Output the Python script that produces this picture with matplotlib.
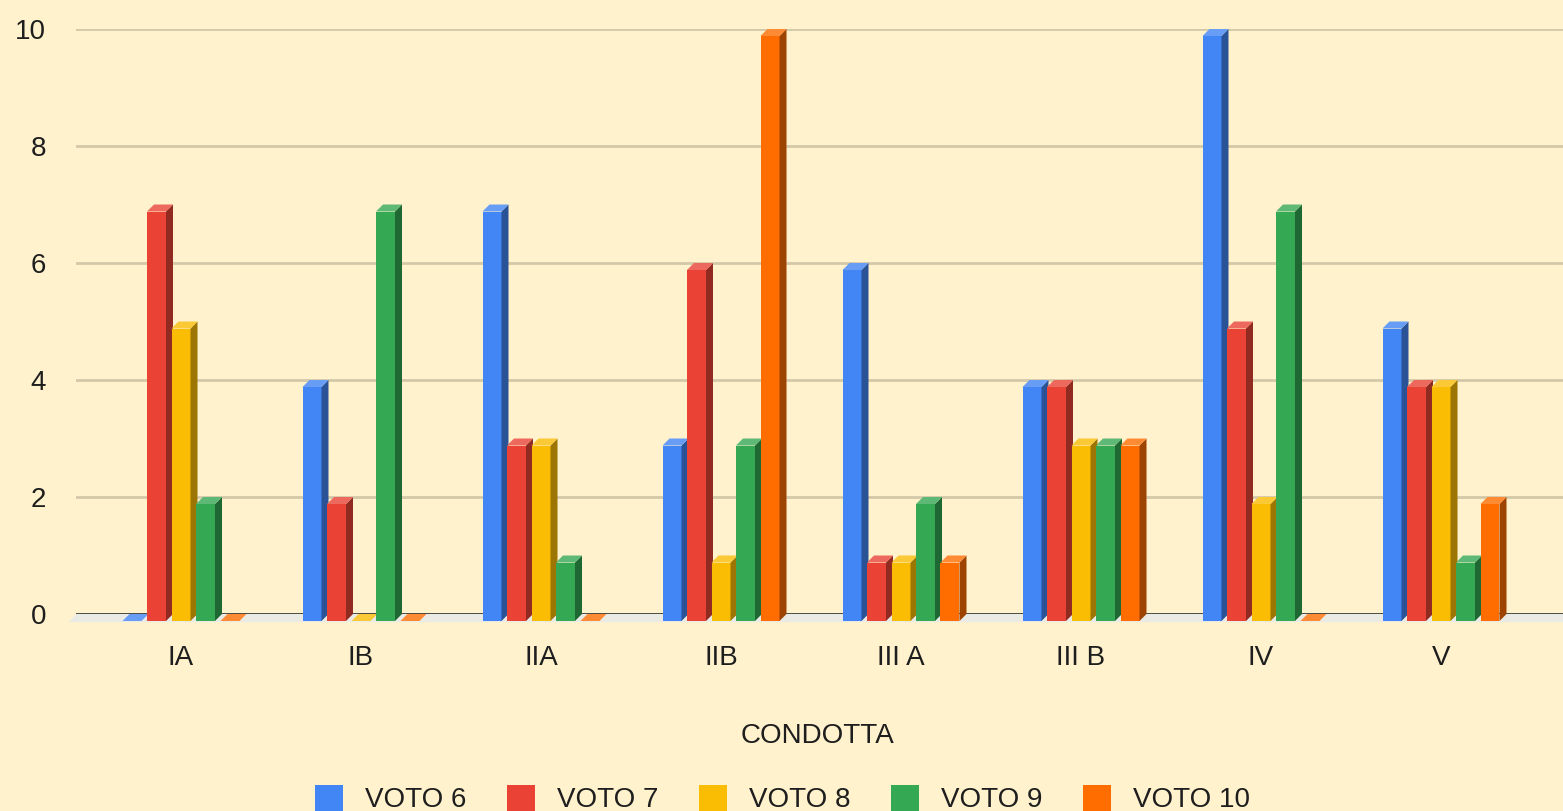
import matplotlib
matplotlib.use("Agg")
import matplotlib.pyplot as plt
from matplotlib.patches import Polygon, Rectangle
import numpy as np

# data
classes = ["IA", "IB", "IIA", "IIB", "III A", "III B", "IV", "V"]
series = ["VOTO 6", "VOTO 7", "VOTO 8", "VOTO 9", "VOTO 10"]
voto6 = [0, 4, 7, 3, 6, 4, 10, 5]
voto7 = [7, 2, 3, 6, 1, 4, 5, 4]
voto8 = [5, 0, 3, 1, 1, 3, 2, 4]
voto9 = [2, 7, 1, 3, 2, 3, 7, 1]
voto10 = [0, 0, 0, 10, 1, 3, 0, 2]
values = [voto6, voto7, voto8, voto9, voto10]

colors = ["#4285f4", "#ea4335", "#fbbc04", "#34a853", "#ff6d01"]
bg = "#fff2cc"

W, H = 1563, 811
fig = plt.figure(figsize=(W / 100, H / 100), dpi=100, facecolor=bg)
plt.rcParams['font.family'] = ['Liberation Sans', 'DejaVu Sans']

# plot area in pixels: x 76..1563, y(10)=29, y(0)=614
ax = fig.add_axes([76 / W, (H - 614) / H, (W - 76) / W, (614 - 29) / H])
ax.set_facecolor(bg)
px_x = 180.0            # pixels per category
px_y = (614 - 29) / 10  # pixels per unit
ax.set_xlim((76 - 181) / px_x, (W - 181) / px_x)
ax.set_ylim(0, 10)

dx = 7 / px_x   # 3d depth
dy = 7 / px_y
pitch = 24.5 / px_x
bw = 19 / px_x


def shade(c, f):
    r, g, b = matplotlib.colors.to_rgb(c)
    return (r * f, g * f, b * f)


def tint(c, f):
    r, g, b = matplotlib.colors.to_rgb(c)
    return (r + (1 - r) * f, g + (1 - g) * f, b + (1 - b) * f)


# grid
for v in [2, 4, 6, 8, 10]:
    ax.axhline(v, color="#d3c8a8", lw=2, zorder=1)
ax.axhline(0, color="#3a3a36", lw=2, zorder=1)

# floor
x0, x1 = ax.get_xlim()
ax.add_patch(Polygon([(x0, 0), (x1 + 1, 0), (x1 + 1 - dx, -dy - 0.02), (x0 - dx, -dy - 0.02)],
                     closed=True, fc="#ebebe6", ec="none", clip_on=False, zorder=1))

# bars
for i in range(len(classes)):
    for k in range(len(series)):
        v = values[k][i]
        c = colors[k]
        left = i + (k - 2) * pitch - bw / 2
        right = left + bw
        z = 3 + i * 10 + k
        ax.add_patch(Polygon([(left, -dy), (right, -dy), (right, v - dy), (left, v - dy)],
                             closed=True, fc=c, ec="none", clip_on=False, zorder=z))
        ax.add_patch(Polygon([(right, -dy), (right + dx, 0), (right + dx, v), (right, v - dy)],
                             closed=True, fc=shade(c, 0.62), ec="none", clip_on=False, zorder=z))
        ax.add_patch(Polygon([(left, v - dy), (right, v - dy), (right + dx, v), (left + dx, v)],
                             closed=True, fc=tint(c, 0.2), ec="none", clip_on=False, zorder=z))

for s in ax.spines.values():
    s.set_visible(False)

ax.set_yticks([0, 2, 4, 6, 8, 10])
ax.set_yticklabels(["0", "2", "4", "6", "8", "10"])
ax.set_xticks(range(len(classes)))
ax.set_xticklabels(classes)
ax.tick_params(axis="y", length=0, pad=21.5, labelsize=20, labelcolor="#1e1e1e")
ax.tick_params(axis="x", length=0, pad=22, labelsize=20, labelcolor="#1e1e1e")

fig.text(817 / W, (H - 743) / H, "CONDOTTA", ha="center", va="baseline",
         fontsize=20, color="#1e1e1e")

# legend
for k, name in enumerate(series):
    lx = 315 + k * 192
    fig.patches.append(Rectangle((lx / W, (H - 813) / H), 28 / W, 28 / H,
                                 transform=fig.transFigure, fc=colors[k], ec="none"))
    fig.text((lx + 50) / W, (H - 807) / H, name, ha="left", va="baseline",
             fontsize=20, color="#1e1e1e")

fig.savefig("out.png", dpi=100, facecolor=bg)
